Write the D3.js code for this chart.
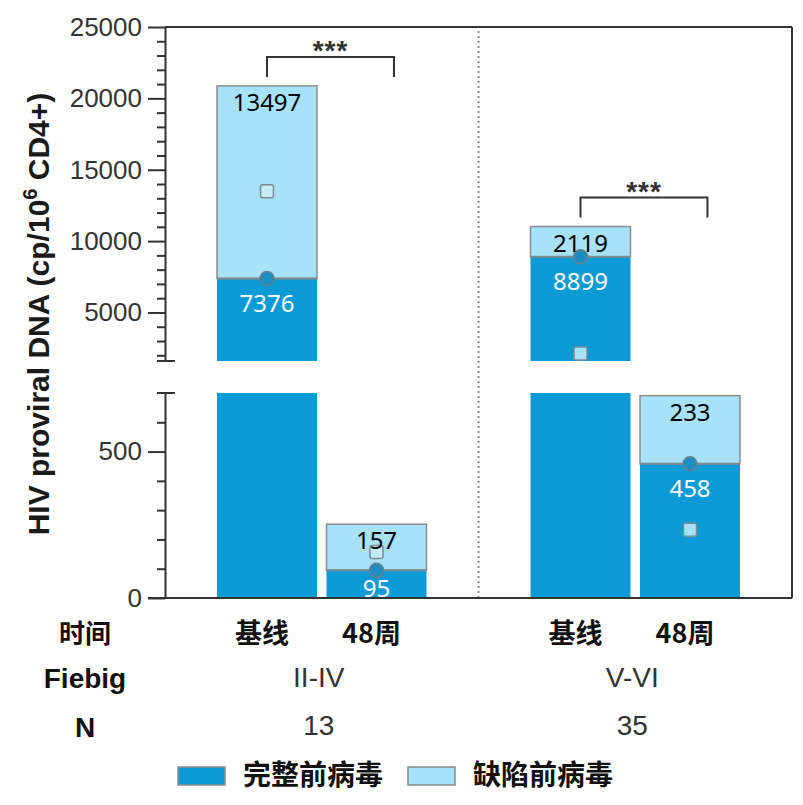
<!DOCTYPE html>
<html>
<head>
<meta charset="utf-8">
<script src="https://cdn.jsdelivr.net/npm/d3@7"></script>
<style>
  body { margin: 0; background: #fff; }
  svg { display: block; }
</style>
</head>
<body>
<div class="chart"></div>
<script>
// data
var groups = ["II-IV", "V-VI"];
var nValues = ["13", "35"];
var timepoints = ["基线", "48周"];
// one entry per bar: group, timepoint
var barGroup = ["II-IV", "II-IV", "V-VI", "V-VI"];
var barTime = ["基线", "48周", "基线", "48周"];
var intact = [7376, 95, 8899, 458];
var defective = [13497, 157, 2119, 233];
var sigLabels = ["***", "***"];
var upperTicks = [5000, 10000, 15000, 20000, 25000];
var upperMinor = [2000, 3000, 4000, 6000, 7000, 8000, 9000, 11000, 12000, 13000, 14000,
                  16000, 17000, 18000, 19000, 21000, 22000, 23000, 24000];
var lowerTicks = [0, 500];
var lowerMinor = [100, 200, 300, 400, 600];
var legendLabels = ["完整前病毒", "缺陷前病毒"];
var rowLabels = ["时间", "Fiebig", "N"];

var bars = intact.map((v, i) => ({
  group: barGroup[i], time: barTime[i], intact: v, defective: defective[i], total: v + defective[i]
}));

// graph
var width = 803, height = 805;
var axisX = 165, rightX = 792;
var cIntact = "#0a9bd7", cDefect = "#a6e3fb", cEdge = "#8c8c8c", cAxis = "#333";
var numFont = "'Noto Sans', sans-serif";
var latFont = "'Liberation Sans', Arial, sans-serif";
var cjkFont = "'Noto Sans CJK SC', sans-serif";

var svg = d3.select("body").select(".chart").append("svg")
    .attr("width", width)
    .attr("height", height);

// scales
var xGroup = d3.scaleBand().domain(groups).range([axisX, rightX]);
var xTime = d3.scaleBand().domain(timepoints).range([0, xGroup.bandwidth()])
    .paddingInner(0.087).paddingOuter(0.475);
var bw = xTime.bandwidth();
var barX = d => xGroup(d.group) + xTime(d.time);
var barC = d => barX(d) + bw / 2;

// broken y axis: two panels
var yUp = d3.scaleLinear().domain([1600, 25000]).range([361, 27]);
var yLow = d3.scaleLinear().domain([0, 700]).range([598, 393]);
var panels = [yUp, yLow];
var yOf = v => (v >= yUp.domain()[0] ? yUp(v) : yLow(v));

// frame
svg.append("line").attr("x1", axisX).attr("x2", rightX)
  .attr("y1", yUp(25000)).attr("y2", yUp(25000))
  .attr("stroke", cAxis).attr("stroke-width", 2);
svg.append("line").attr("x1", rightX).attr("x2", rightX)
  .attr("y1", yUp(25000)).attr("y2", yLow(0))
  .attr("stroke", cAxis).attr("stroke-width", 2);

// dotted group separator
svg.append("line")
  .attr("x1", xGroup(groups[1])).attr("x2", xGroup(groups[1]))
  .attr("y1", yUp(25000) + 4).attr("y2", yLow(0))
  .attr("stroke", "#888").attr("stroke-width", 2).attr("stroke-dasharray", "2,3");

// bars
panels.forEach(y => {
  var lo = y.domain()[0], hi = y.domain()[1];
  bars.forEach(d => {
    var segs = [[0, d.intact, cIntact, "none"], [d.intact, d.total, cDefect, cEdge]];
    segs.forEach(s => {
      var a = Math.max(s[0], lo), b = Math.min(s[1], hi);
      if (b <= a) return;
      svg.append("rect")
        .attr("x", barX(d)).attr("width", bw)
        .attr("y", y(b)).attr("height", y(a) - y(b))
        .attr("fill", s[2])
        .attr("stroke", s[3]).attr("stroke-width", 1.5);
    });
    if (d.intact > lo && d.intact < hi) {
      svg.append("line")
        .attr("x1", barX(d)).attr("x2", barX(d) + bw)
        .attr("y1", y(d.intact)).attr("y2", y(d.intact))
        .attr("stroke", "#7d8a90").attr("stroke-width", 2);
    }
  });
});

// markers
bars.forEach(d => {
  svg.append("rect")
    .attr("x", barC(d) - 6.5).attr("y", yOf(d.defective) - 6.5)
    .attr("width", 13).attr("height", 13).attr("rx", 2)
    .attr("fill", d.defective > d.intact ? "#c4ecfb" : cDefect)
    .attr("stroke", "#7f8a8f").attr("stroke-width", 1.5);
  svg.append("circle")
    .attr("cx", barC(d)).attr("cy", yOf(d.intact)).attr("r", 7)
    .attr("fill", "#1c8ec4").attr("stroke", "#6b7f88").attr("stroke-width", 1.5);
});

// value labels
bars.forEach(d => {
  svg.append("text")
    .attr("x", barC(d)).attr("y", yOf(d.total) + 25)
    .attr("text-anchor", "middle")
    .style("font-family", numFont).style("font-size", "24px").attr("fill", "#000")
    .text(d.defective);
  svg.append("text")
    .attr("x", barC(d)).attr("y", Math.min(yOf(d.intact) + 33, yLow(0) - 1))
    .attr("text-anchor", "middle")
    .style("font-family", numFont).style("font-size", "24px").attr("fill", "#fff")
    .text(d.intact);
});

// significance brackets
groups.forEach((g, i) => {
  var base = bars.filter(d => d.group === g)[0];
  var x1 = barC(base), x2 = x1 + bw * 1.27;
  var legY = yUp(base.total) - 9, topY = yUp(base.total) - 29;
  svg.append("path")
    .attr("d", "M" + x1 + "," + legY + "V" + topY + "H" + x2 + "V" + legY)
    .attr("fill", "none").attr("stroke", cAxis).attr("stroke-width", 2);
  svg.append("text")
    .attr("x", (x1 + x2) / 2).attr("y", topY + 3)
    .attr("text-anchor", "middle")
    .style("font-family", latFont).style("font-size", "28px").style("font-weight", "bold")
    .style("letter-spacing", "1px").attr("fill", cAxis)
    .text(sigLabels[i]);
});

// y axes
function drawAxis(y, major, minor) {
  svg.append("g")
    .attr("transform", "translate(" + axisX + ",0)")
    .call(d3.axisLeft(y).tickValues(minor).tickSize(8).tickSizeOuter(0).tickFormat(""))
    .call(g => g.select(".domain").remove())
    .selectAll("line").attr("stroke", cAxis).attr("stroke-width", 2);
  var ax = svg.append("g")
    .attr("transform", "translate(" + axisX + ",0)")
    .call(d3.axisLeft(y).tickValues(major).tickSize(17).tickSizeOuter(0).tickPadding(6)
      .tickFormat(d3.format("d")));
  ax.select(".domain").attr("stroke", cAxis).attr("stroke-width", 2);
  ax.selectAll("line").attr("stroke", cAxis).attr("stroke-width", 2);
  ax.selectAll("text").style("font-family", latFont).style("font-size", "26px").attr("fill", cAxis);
}
drawAxis(yUp, upperTicks, upperMinor);
drawAxis(yLow, lowerTicks, lowerMinor);

// break caps
[yUp(yUp.domain()[0]), yLow(yLow.domain()[1])].forEach(yy => {
  svg.append("line").attr("x1", axisX - 8).attr("x2", axisX + 10)
    .attr("y1", yy).attr("y2", yy).attr("stroke", cAxis).attr("stroke-width", 2);
});

// bottom axis line
svg.append("line").attr("x1", axisX - 17).attr("x2", rightX)
  .attr("y1", yLow(0)).attr("y2", yLow(0))
  .attr("stroke", cAxis).attr("stroke-width", 2);

// y title
var yt = svg.append("text")
  .attr("transform", "translate(49,314) rotate(-90)")
  .attr("text-anchor", "middle")
  .style("font-family", latFont).style("font-size", "30px").style("font-weight", "bold")
  .attr("fill", "#1a1a1a");
yt.append("tspan").text("HIV proviral DNA (cp/10");
yt.append("tspan").attr("dy", -12).style("font-size", "20px").text("6");
yt.append("tspan").attr("dy", 12).text(" CD4+)");

// bottom table
var rowY = [643, 688, 737];
var rowFont = [cjkFont, latFont, latFont];
rowLabels.forEach((t, i) => {
  svg.append("text")
    .attr("x", 85).attr("y", rowY[i])
    .attr("text-anchor", "middle")
    .style("font-family", rowFont[i]).style("font-size", i === 0 ? "26px" : "28px")
    .style("font-weight", "bold").attr("fill", "#111")
    .text(t);
});
bars.forEach(d => {
  svg.append("text")
    .attr("x", barC(d) - 5).attr("y", rowY[0])
    .attr("text-anchor", "middle")
    .style("font-family", cjkFont).style("font-size", "27px").style("font-weight", "bold")
    .attr("fill", "#111")
    .text(d.time);
});
groups.forEach((g, i) => {
  var cx = xGroup(g) + xGroup.bandwidth() / 2 - 3;
  svg.append("text")
    .attr("x", cx).attr("y", rowY[1] - 1)
    .attr("text-anchor", "middle")
    .style("font-family", latFont).style("font-size", "28px").attr("fill", cAxis)
    .text(g);
  svg.append("text")
    .attr("x", cx).attr("y", rowY[2] - 2)
    .attr("text-anchor", "middle")
    .style("font-family", latFont).style("font-size", "28px").attr("fill", cAxis)
    .text(nValues[i]);
});

// legend
var legX = [178, 408];
var legColor = [cIntact, cDefect];
legendLabels.forEach((t, i) => {
  svg.append("rect")
    .attr("x", legX[i]).attr("y", 767).attr("width", 47).attr("height", 18)
    .attr("fill", legColor[i]).attr("stroke", cEdge).attr("stroke-width", 1.5);
  svg.append("text")
    .attr("x", legX[i] + 65).attr("y", 785)
    .style("font-family", cjkFont).style("font-size", "28px").style("font-weight", "bold")
    .attr("fill", "#111")
    .text(t);
});
</script>
</body>
</html>
